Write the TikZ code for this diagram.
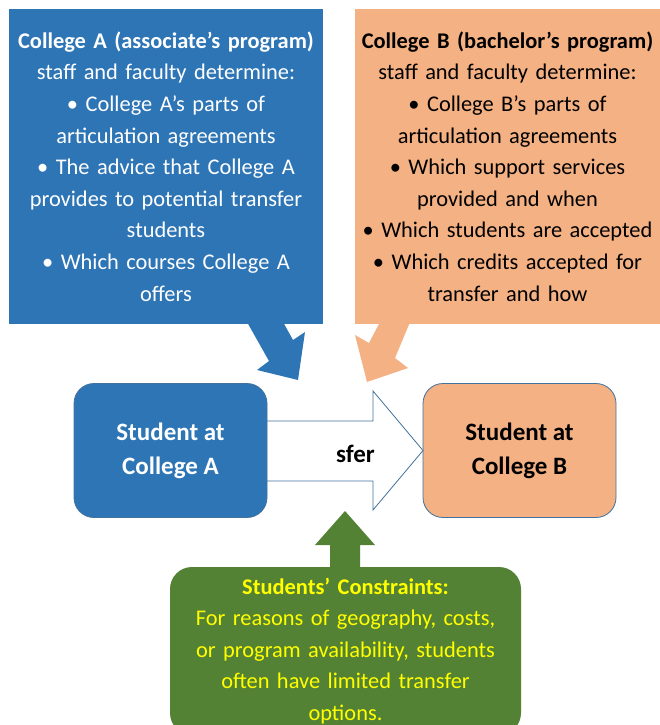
\documentclass[tikz,border=0pt]{standalone}
\usepackage{fontspec}
\setmainfont{Carlito}

\definecolor{collAblue}{HTML}{2E75B6}
\definecolor{collBtan}{HTML}{F4B183}
\definecolor{consgreen}{HTML}{548235}
\definecolor{edgeblue}{HTML}{41719C}
\definecolor{consyellow}{HTML}{FFFF00}

\begin{document}
\begin{tikzpicture}[x=1pt, y=-1pt]
\tikzset{ inner sep=0pt, outer sep=0pt,
  txt/.style={font=\fontsize{22.4}{31.6}\selectfont, align=center},
  callbox/.style={txt, fill=#1, minimum height=315pt, text width=304pt},
  student/.style={fill=#1, draw=edgeblue, line width=0.8pt, rounded corners=20pt,
                  minimum width=193pt, minimum height=134pt,
                  font=\bfseries\fontsize{25}{34}\selectfont, align=center},
}

\clip (0,0) rectangle (660,725);

% the two colleges
\node [callbox=collAblue, minimum width=314pt, text=white] (collA) at (166,166.5)
  {\textbf{College A (associate’s program)}\\ staff and faculty determine:\\
   • College A’s parts of\\ articulation agreements\\ • The advice that College A\\
   provides to potential transfer\\ students\\ • Which courses College A\\ offers};
\node [callbox=collBtan, minimum width=305pt, text=black] (collB) at (507.5,166.5)
  {\textbf{College B (bachelor’s program)}\\ staff and faculty determine:\\
   • College B’s parts of\\ articulation agreements\\ • Which support services\\
   provided and when\\ • Which students are accepted\\ • Which credits accepted for\\
   transfer and how};

% callout pointers
\fill [collAblue] (247,322) -- (269,361) -- (257,370) -- (298,380) -- (305,332) -- (293,340) -- (283,322) -- cycle;
\fill [collBtan]  (410,322) -- (395,358) -- (408,368) -- (367,382) -- (355,335) -- (369,343) -- (380,322) -- cycle;

% transfer arrow, tail hidden under the first box
\node [student=collBtan, text=black] (stuB) at (519.5,450.5) {Student at\\College B};
\draw [edgeblue, fill=white, line width=0.8pt, line join=miter]
  (240,421) -- (373,421) -- (373,391) -- (stuB.west) -- (373,510) -- (373,481) -- (240,481) -- cycle;
\node [font=\bfseries\fontsize{25}{30}\selectfont] (move) at (355.5,453.5) {sfer};
\node [student=collAblue, text=white] (stuA) at (170.5,450.5) {Student at\\College A};

% constraints
\node [txt, fill=consgreen, text=consyellow, rounded corners=22pt, anchor=north,
       minimum width=351pt, minimum height=168pt, text width=345pt] (cons) at (345.5,567)
  {\textbf{Students’ Constraints:}\\ For reasons of geography, costs,\\
   or program availability, students\\ often have limited transfer\\ options.};
\fill [consgreen] (330,568) -- (330,545) -- (315,545) -- (345,511) -- (375,545) -- (360,545) -- (360,568) -- cycle;

\end{tikzpicture}
\end{document}
